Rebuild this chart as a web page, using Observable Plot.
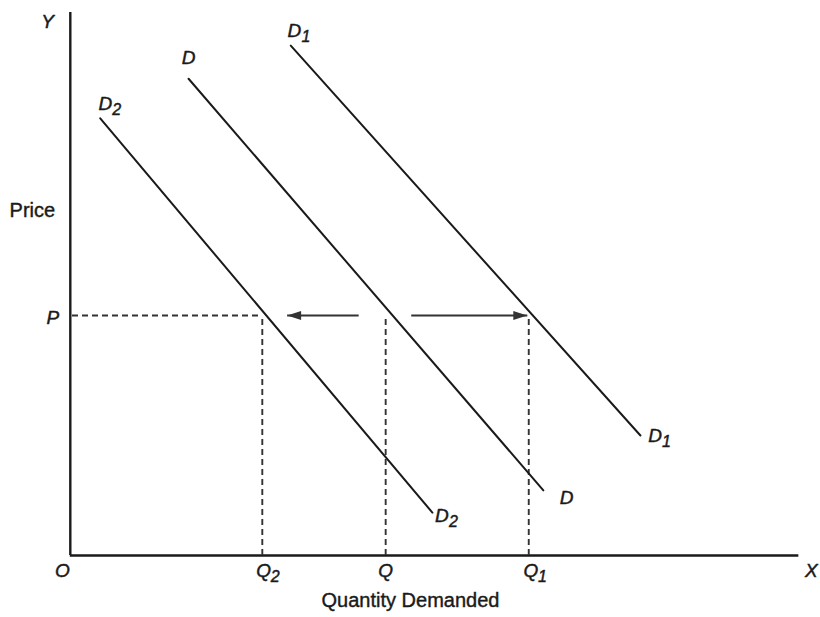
<!DOCTYPE html>
<html>
<head>
<meta charset="utf-8">
<script src="https://cdn.jsdelivr.net/npm/d3@7"></script>
<script src="https://cdn.jsdelivr.net/npm/@observablehq/plot@0.6"></script>
<style>
  html, body { margin: 0; padding: 0; background: #fff; }
  svg { display: block; }
</style>
</head>
<body>
<div id="chart"></div>
<script>
// Demand curves (quantity, price) endpoints
const curveD2 = [{q: 3.8, p: 80.5, c: "D2"}, {q: 49.3, p: 7.9, c: "D2"}];
const curveD  = [{q: 15.9, p: 87.8, c: "D"}, {q: 64.5, p: 12.0, c: "D"}];
const curveD1 = [{q: 29.9, p: 93.9, c: "D1"}, {q: 77.8, p: 22.1, c: "D1"}];

// Reference levels
const priceP = 44.2;
const qLevels = [
  {name: "Q2", q: 26.0},
  {name: "Q",  q: 42.9},
  {name: "Q1", q: 62.5}
];

// Shift arrows (from -> to)
const arrows = [
  {x1: 39.2, x2: 29.4, y: 44.2, dir: "left"},
  {x1: 46.4, x2: 62.3, y: 44.2, dir: "right"}
];

// Labels: main text + optional subscript
const labels = [
  {t: "Y", s: "", q: -3.4, p: 98.2},
  {t: "D", s: "1", q: 30.4, p: 96.6},
  {t: "D", s: "", q: 15.9, p: 91.6},
  {t: "D", s: "2", q: 4.5, p: 83.2},
  {t: "P", s: "", q: -2.7, p: 43.8},
  {t: "O", s: "", q: -1.4, p: -2.8},
  {t: "Q", s: "2", q: 26.2, p: -2.8},
  {t: "Q", s: "", q: 42.9, p: -2.8},
  {t: "Q", s: "1", q: 62.8, p: -2.8},
  {t: "X", s: "", q: 101.2, p: -2.8},
  {t: "D", s: "1", q: 79.8, p: 22.0},
  {t: "D", s: "", q: 67.7, p: 10.6},
  {t: "D", s: "2", q: 50.6, p: 7.3}
];
const plainLabels = [
  {t: "Price", q: -5.5, p: 63.5},
  {t: "Quantity Demanded", q: 46.3, p: -8.3}
];

const font = "Liberation Sans, Arial, Helvetica, sans-serif";
const ink = "#1a1a1a";

// filled arrowhead symbols with the tip at the anchor point
const headRight = {draw(ctx) { ctx.moveTo(0, 0); ctx.lineTo(-14, -4.5); ctx.lineTo(-14, 4.5); ctx.closePath(); }};
const headLeft  = {draw(ctx) { ctx.moveTo(0, 0); ctx.lineTo(14, -4.5); ctx.lineTo(14, 4.5); ctx.closePath(); }};

const plot = Plot.plot({
  width: 820,
  height: 617,
  margin: 0,
  style: {background: "#fff", fontFamily: font},
  x: {domain: [0, 100], range: [72, 802], axis: null},
  y: {domain: [0, 100], range: [555, 12], axis: null},
  marks: [
    // axes
    Plot.ruleX([0], {x: () => -0.3, y1: 0, y2: 100, stroke: ink, strokeWidth: 2.4}),
    Plot.ruleY([0], {x1: -0.3, x2: 99.5, stroke: ink, strokeWidth: 2.4}),
    // dashed guides
    Plot.ruleY([priceP], {x1: 0, x2: qLevels[0].q, stroke: "#333", strokeWidth: 1.9, strokeDasharray: "6,4"}),
    Plot.ruleX(qLevels, {x: "q", y1: 0, y2: priceP, stroke: "#333", strokeWidth: 1.9, strokeDasharray: "6,4"}),
    // demand curves
    Plot.line(curveD2, {x: "q", y: "p", stroke: ink, strokeWidth: 2}),
    Plot.line(curveD,  {x: "q", y: "p", stroke: ink, strokeWidth: 2}),
    Plot.line(curveD1, {x: "q", y: "p", stroke: ink, strokeWidth: 2}),
    // arrows: shafts + filled heads
    Plot.link(arrows, {x1: "x1", x2: "x2", y1: "y", y2: "y", stroke: "#333", strokeWidth: 1.9}),
    Plot.dot(arrows.filter(d => d.dir === "right"), {x: "x2", y: "y", symbol: headRight, fill: "#333", stroke: "none"}),
    Plot.dot(arrows.filter(d => d.dir === "left"), {x: "x2", y: "y", symbol: headLeft, fill: "#333", stroke: "none"}),
    // labels
    Plot.text(labels, {x: "q", y: "p", text: "t", fontSize: 19, fontStyle: "italic", fill: ink, stroke: ink, strokeWidth: 0.45, textAnchor: "middle"}),
    Plot.text(labels.filter(d => d.s), {x: "q", y: "p", text: "s", fontSize: 16, fontStyle: "italic", fill: ink, stroke: ink, strokeWidth: 0.45, dx: 7, dy: 6, textAnchor: "start"}),
    Plot.text(plainLabels, {x: "q", y: "p", text: "t", fontSize: 20, fill: ink, stroke: ink, strokeWidth: 0.4, textAnchor: "middle"})
  ]
});
document.getElementById("chart").appendChild(plot);
</script>
</body>
</html>
